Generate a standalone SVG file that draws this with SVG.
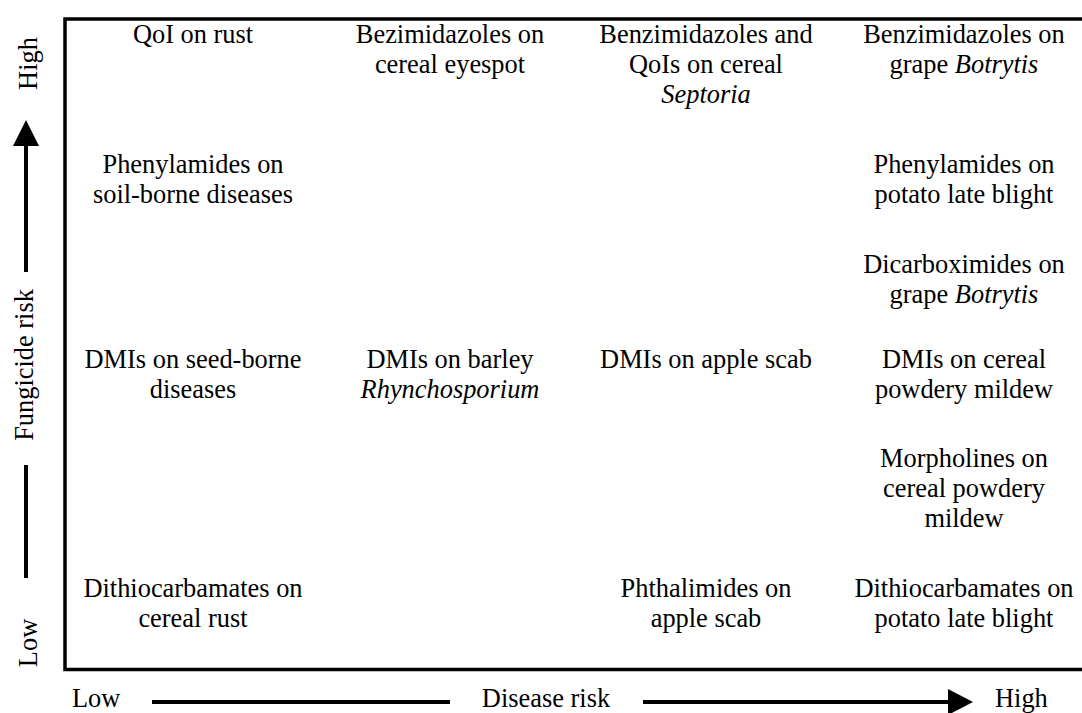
<svg xmlns="http://www.w3.org/2000/svg" width="1082" height="713" viewBox="0 0 1082 713">
<style>
text{font-family:"Liberation Serif","Times New Roman",serif;font-size:26.4px;fill:#000}
.c{text-anchor:middle}
.i{font-style:italic}
.ax{stroke:#000;stroke-width:4;fill:none}
</style>
<rect width="1082" height="713" fill="#fff"/>
<g id="frame">
<path d="M1090,19 H65 V669.5 H1090" fill="none" stroke="#000" stroke-width="3.5"/>
</g>
<g id="connectors">
<line class="ax" x1="26" y1="145" x2="26" y2="272"/>
<line class="ax" x1="26" y1="465" x2="26" y2="578"/>
<polygon points="26,120 13,146 39,146" fill="#000"/>
<line class="ax" x1="152" y1="702" x2="450" y2="702"/>
<line class="ax" x1="643" y1="702" x2="950" y2="702"/>
<polygon points="973,702 948,689 948,715" fill="#000"/>
</g>
<g id="axis-labels">
<text class="c" transform="translate(37,63.5) rotate(-90)">High</text>
<text class="c" transform="translate(33,365) rotate(-90)">Fungicide risk</text>
<text class="c" transform="translate(37,643) rotate(-90)">Low</text>
<text x="72" y="707">Low</text>
<text class="c" x="546" y="707">Disease risk</text>
<text x="995" y="707">High</text>
</g>
<g id="n-qoi-rust"><text class="c" x="193" y="43">QoI on rust</text></g>
<g id="n-bez-eyespot"><text class="c" x="450" y="43">Bezimidazoles on</text><text class="c" x="450" y="73">cereal eyespot</text></g>
<g id="n-benz-septoria"><text class="c" x="706" y="43">Benzimidazoles and</text><text class="c" x="706" y="73">QoIs on cereal</text><text class="c i" x="706" y="103">Septoria</text></g>
<g id="n-benz-botrytis"><text class="c" x="964" y="43">Benzimidazoles on</text><text class="c" x="964" y="73">grape <tspan class="i">Botrytis</tspan></text></g>
<g id="n-phen-soil"><text class="c" x="193" y="173">Phenylamides on</text><text class="c" x="193" y="203">soil-borne diseases</text></g>
<g id="n-phen-potato"><text class="c" x="964" y="173">Phenylamides on</text><text class="c" x="964" y="203">potato late blight</text></g>
<g id="n-dicarb-botrytis"><text class="c" x="964" y="273">Dicarboximides on</text><text class="c" x="964" y="303">grape <tspan class="i">Botrytis</tspan></text></g>
<g id="n-dmi-seed"><text class="c" x="193" y="368">DMIs on seed-borne</text><text class="c" x="193" y="398">diseases</text></g>
<g id="n-dmi-barley"><text class="c" x="450" y="368">DMIs on barley</text><text class="c i" x="450" y="398">Rhynchosporium</text></g>
<g id="n-dmi-apple"><text class="c" x="706" y="368">DMIs on apple scab</text></g>
<g id="n-dmi-mildew"><text class="c" x="964" y="368">DMIs on cereal</text><text class="c" x="964" y="398">powdery mildew</text></g>
<g id="n-morph-mildew"><text class="c" x="964" y="467">Morpholines on</text><text class="c" x="964" y="497">cereal powdery</text><text class="c" x="964" y="527">mildew</text></g>
<g id="n-dithio-rust"><text class="c" x="193" y="597">Dithiocarbamates on</text><text class="c" x="193" y="627">cereal rust</text></g>
<g id="n-phth-apple"><text class="c" x="706" y="597">Phthalimides on</text><text class="c" x="706" y="627">apple scab</text></g>
<g id="n-dithio-potato"><text class="c" x="964" y="597">Dithiocarbamates on</text><text class="c" x="964" y="627">potato late blight</text></g>
</svg>
